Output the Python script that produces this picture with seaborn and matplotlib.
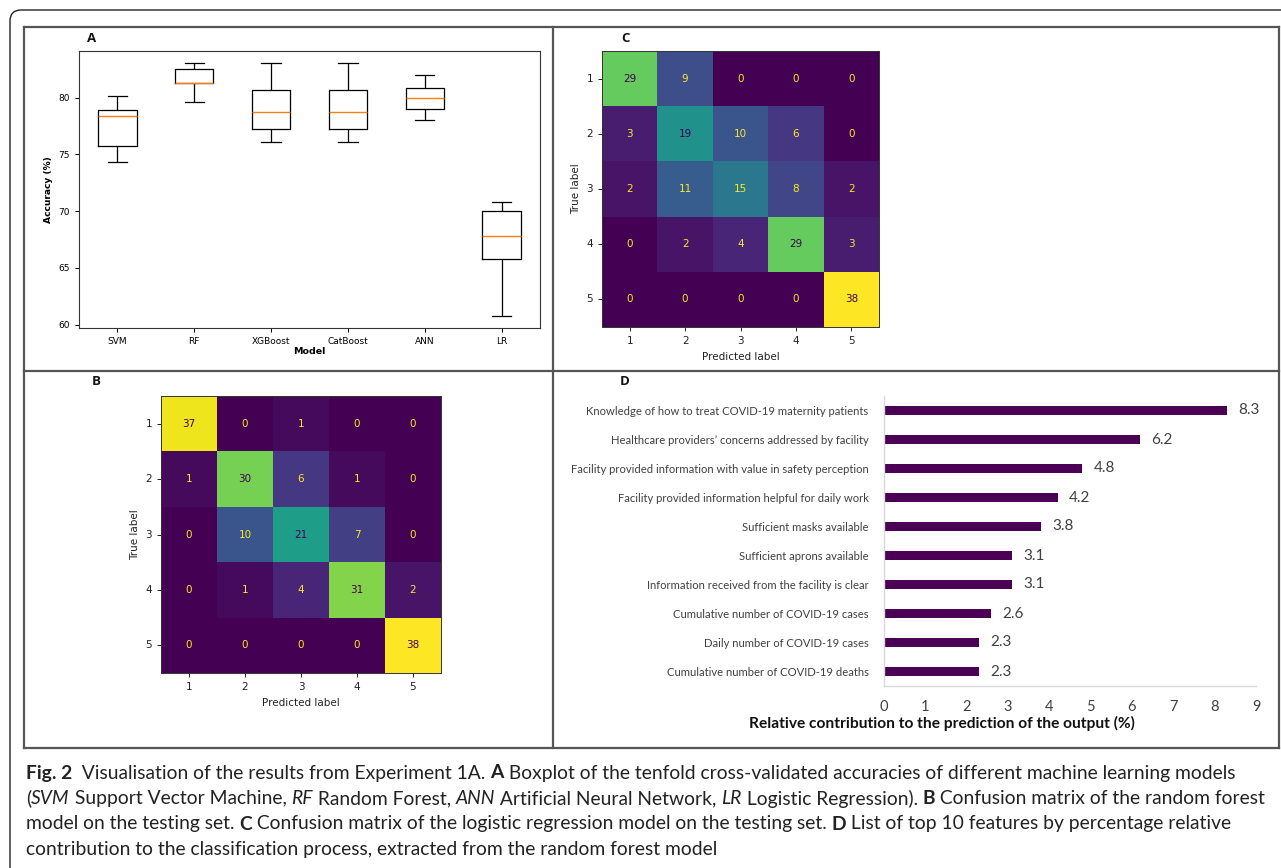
import numpy as np
import pandas as pd
import matplotlib
matplotlib.use("Agg")
import matplotlib.pyplot as plt
import matplotlib.transforms as mtransforms
from matplotlib.patches import FancyBboxPatch
from matplotlib.lines import Line2D
import seaborn as sns

# ---------------- data ----------------
models = ["SVM", "RF", "XGBoost", "CatBoost", "ANN", "LR"]
acc_min = [74.3, 79.6, 76.1, 76.1, 78.0, 60.8]
acc_q1 = [75.7, 81.3, 77.2, 77.2, 79.0, 65.8]
acc_med = [78.4, 81.3, 78.7, 78.7, 80.0, 67.8]
acc_q3 = [78.9, 82.5, 80.7, 80.7, 80.8, 70.0]
acc_max = [80.1, 83.0, 83.0, 83.0, 82.0, 70.8]

class_labels = ["1", "2", "3", "4", "5"]
cm_rf = [[37, 0, 1, 0, 0],
         [1, 30, 6, 1, 0],
         [0, 10, 21, 7, 0],
         [0, 1, 4, 31, 2],
         [0, 0, 0, 0, 38]]
cm_lr = [[29, 9, 0, 0, 0],
         [3, 19, 10, 6, 0],
         [2, 11, 15, 8, 2],
         [0, 2, 4, 29, 3],
         [0, 0, 0, 0, 38]]

features = ["Knowledge of how to treat COVID-19 maternity patients",
            "Healthcare providers\u2019 concerns addressed by facility",
            "Facility provided information with value in safety perception",
            "Facility provided information helpful for daily work",
            "Sufficient masks available",
            "Sufficient aprons available",
            "Information received from the facility is clear",
            "Cumulative number of COVID-19 cases",
            "Daily number of COVID-19 cases",
            "Cumulative number of COVID-19 deaths"]
contrib = [8.3, 6.2, 4.8, 4.2, 3.8, 3.1, 3.1, 2.6, 2.3, 2.3]

# ---------------- figure ----------------
W, H = 1281, 868
fig = plt.figure(figsize=(W / 100, H / 100), dpi=100)
fig.patch.set_facecolor("white")

NARROW = ["Lato", "DejaVu Sans"]
PANEL_FONT = ["Open Sans", "DejaVu Sans"]


def px_axes(l, t, r, b):
    return fig.add_axes([l / W, 1 - b / H, (r - l) / W, (b - t) / H])


pix = mtransforms.Affine2D().scale(1, -1).translate(0, H)

# outer rounded frame
fig.add_artist(FancyBboxPatch((10, 10), 1300, 870, boxstyle="round,pad=0,rounding_size=11",
                              transform=pix, fill=False, ec="#222222", lw=1.0))
# inner panel grid
grid_c = "#555555"
for (x0, y0, x1, y1) in [(24, 27, 1279, 27), (24, 748, 1279, 748), (24, 27, 24, 748),
                         (1279, 27, 1279, 748), (553, 27, 553, 748), (24, 370.5, 1279, 370.5)]:
    fig.add_artist(Line2D([x0, x1], [y0, y1], transform=pix, color=grid_c, lw=1.6))

# panel letters
for lab, (x, y) in {"A": (92, 38), "B": (96, 382), "C": (625, 38), "D": (625, 382)}.items():
    fig.text(x / W, 1 - y / H, lab, fontsize=9.5, fontweight="bold", family=PANEL_FONT,
             ha="center", va="center", color="#111111")

# ---------------- panel A : boxplot ----------------
axA = px_axes(79, 51, 540, 328)
rows = []
for i, m in enumerate(models):
    for v in (acc_min[i], acc_q1[i], acc_med[i], acc_q3[i], acc_max[i]):
        rows.append({"Model": m, "Accuracy": v})
dfA = pd.DataFrame(rows)
sns.boxplot(data=dfA, x="Model", y="Accuracy", ax=axA, whis=(0, 100), fill=False,
            color="black", width=0.5, linewidth=0.9,
            medianprops={"color": "#ff7f0e", "linewidth": 1.0})
axA.set_ylabel("Accuracy (%)", fontsize=6.6, fontweight="bold")
axA.set_xlabel("Model", fontsize=6.8, fontweight="bold", labelpad=1)
axA.tick_params(labelsize=6.5, length=3, width=0.7)
for s in axA.spines.values():
    s.set_linewidth(0.8)
    s.set_color("#333333")
axA.set_xlim(-0.5, 5.5)
axA.set_ylim(59.7, 84.1)

# ---------------- panels B and C : confusion matrices ----------------
vmax_txt = plt.get_cmap("viridis")(1.0)
vmin_txt = plt.get_cmap("viridis")(0.0)


def conf_panel(ax, cm):
    arr = np.array(cm)
    sns.heatmap(arr, ax=ax, cmap="viridis", annot=True, fmt="d", cbar=False,
                xticklabels=class_labels, yticklabels=class_labels,
                annot_kws={"fontsize": 7.5})
    thresh = (arr.max() + arr.min()) / 2.0
    for t in ax.texts:
        v = int(t.get_text())
        t.set_color(vmax_txt if v < thresh else vmin_txt)
    for s in ax.spines.values():
        s.set_visible(True)
        s.set_linewidth(0.7)
        s.set_color("#333333")
    ax.tick_params(labelsize=7.5, length=3, width=0.7, colors="#222222", labelrotation=0)
    ax.set_xlabel("Predicted label", fontsize=7.5, color="#222222")
    ax.set_ylabel("True label", fontsize=7.5, color="#222222")


axB = px_axes(161, 396, 441, 673)
conf_panel(axB, cm_rf)
axC = px_axes(602, 51, 879, 327)
conf_panel(axC, cm_lr)

# ---------------- panel D : feature contribution ----------------
axD = px_axes(884, 396, 1256, 686)
dfD = pd.DataFrame({"feature": features, "contrib": contrib})
sns.barplot(data=dfD, x="contrib", y="feature", ax=axD, color="#4b0055",
            width=0.32, orient="h", saturation=1)
axD.set_xlim(0, 9)
axD.set_xticks(range(10))
axD.set_xlabel("")
axD.set_ylabel("")
for side in ("top", "right"):
    axD.spines[side].set_visible(False)
for side in ("left", "bottom"):
    axD.spines[side].set_color("#d9d9d9")
    axD.spines[side].set_linewidth(1.0)
axD.tick_params(axis="x", length=0, pad=10, labelsize=10.5, labelcolor="#404040")
axD.tick_params(axis="y", length=0, pad=11, labelsize=8.1, labelcolor="#404040")
for lab in axD.get_xticklabels() + axD.get_yticklabels():
    lab.set_family(NARROW)
axD.bar_label(axD.containers[0], labels=[f"{v:.1f}" for v in contrib], padding=8,
              fontsize=11, color="#404040", family=NARROW)
fig.text(942 / W, 1 - 723 / H, "Relative contribution to the prediction of the output (%)",
         fontsize=11.2, fontweight="bold", family=NARROW, ha="center", va="center", color="#111111")

# ---------------- caption ----------------
renderer = fig.canvas.get_renderer()
caption = [
    [("Fig. 2", "bold"), ("  Visualisation of the results from Experiment 1A. ", "normal"), ("A", "bold"),
     (" Boxplot of the tenfold cross-validated accuracies of different machine learning models", "normal")],
    [("(", "normal"), ("SVM", "italic"), (" Support Vector Machine, ", "normal"), ("RF", "italic"),
     (" Random Forest, ", "normal"), ("ANN", "italic"), (" Artificial Neural Network, ", "normal"),
     ("LR", "italic"), (" Logistic Regression). ", "normal"), ("B", "bold"),
     (" Confusion matrix of the random forest", "normal")],
    [("model on the testing set. ", "normal"), ("C", "bold"),
     (" Confusion matrix of the logistic regression model on the testing set. ", "normal"), ("D", "bold"),
     (" List of top 10 features by percentage relative", "normal")],
    [("contribution to the classification process, extracted from the random forest model", "normal")],
]
line_end = [1264, 1266, 1264, None]


def style_kw(sty):
    if sty == "bold":
        return {"fontweight": "bold"}
    if sty == "italic":
        return {"fontstyle": "italic"}
    return {}


# fit the caption lines to the reference widths
base = 12.0
ratios = []
for runs, end in zip(caption, line_end):
    if end is None:
        continue
    w = 0
    for txt, sty in runs:
        t = fig.text(0, 0, txt, fontsize=base, family=NARROW, **style_kw(sty))
        w += t.get_window_extent(renderer).width
        t.remove()
    ratios.append((end - 26) / w)
cap_size = base * min(ratios)

line_y = [773, 798.5, 824, 849.5]
for runs, y in zip(caption, line_y):
    x = 26
    for txt, sty in runs:
        t = fig.text(x / W, 1 - y / H, txt, fontsize=cap_size, family=NARROW, ha="left",
                     va="center", color="#222222", **style_kw(sty))
        x += t.get_window_extent(renderer).width

fig.savefig("out.png", dpi=100, facecolor="white")
